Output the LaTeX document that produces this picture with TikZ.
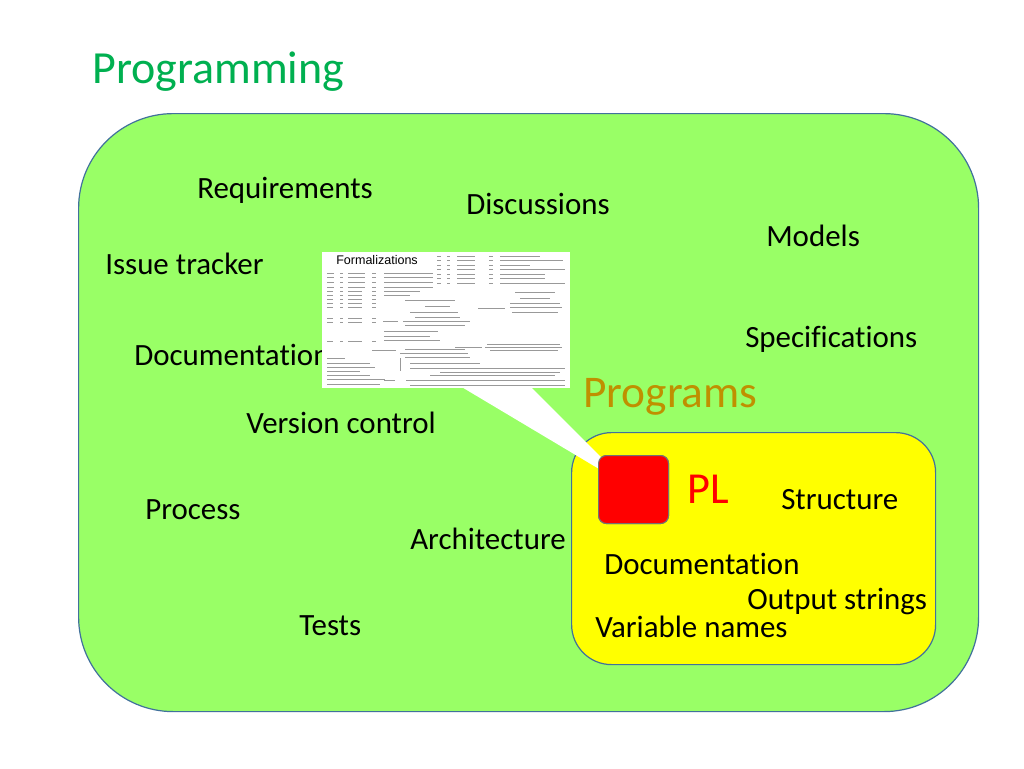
\documentclass[tikz,border=0pt]{standalone}
\usepackage{fontspec}
\setmainfont{Carlito}[Ligatures={NoCommon,NoContextual}]
\newfontfamily\arialf{Liberation Sans}
\usetikzlibrary{calc}
\definecolor{bggreen}{RGB}{153,255,102}
\definecolor{edgeblue}{RGB}{65,113,156}
\definecolor{titlegreen}{RGB}{0,176,80}
\definecolor{plyellow}{RGB}{255,255,0}
\definecolor{progcol}{RGB}{191,144,0}
\definecolor{plred}{RGB}{255,0,0}
\newcommand{\mockln}[3]{\draw[mock] (#1,#3) -- (#2,#3);}
\tikzset{
  lbl/.style={anchor=base west, inner sep=0pt, font=\fontsize{23.2pt}{26pt}\selectfont, text=black},
  big/.style={anchor=base west, inner sep=0pt, font=\fontsize{34pt}{38pt}\selectfont},
  mock/.style={draw=black!40, line width=0.55pt},
}
\begin{document}
\begin{tikzpicture}[x=0.75pt,y=-0.75pt]
\useasboundingbox (0,0) rectangle (1024,768);
\fill[white] (0,0) rectangle (1024,768);

% title
\node[big, text=titlegreen, font=\fontsize{34.5pt}{38pt}\selectfont] (title) at (92,83) {Programming};

% big green area
\node[draw=edgeblue, line width=0.9pt, fill=bggreen, rounded corners=71pt,
      anchor=north west, minimum width=675pt, minimum height=448.5pt, inner sep=0pt] (prog) at (78,113) {};

% labels in green area
\node[lbl] (req)  at (197,198) {Requirements};
\node[lbl] (disc) at (466,214) {Discussions};
\node[lbl] (mod)  at (766,246) {Models};
\node[lbl] (iss)  at (105,274) {Issue tracker};
\node[lbl] (spec) at (745,347) {Specifications};
\node[lbl] (doc1) at (134,365) {Documentation};
\node[lbl] (ver)  at (246,433) {Version control};
\node[lbl] (proc) at (145,519) {Process};
\node[lbl] (arch) at (410,549) {Architecture};
\node[lbl] (tests) at (299,635) {Tests};

\node[big, text=progcol] (programs) at (583,407) {Programs};

% yellow PL area
\node[draw=edgeblue, line width=0.9pt, fill=plyellow, rounded corners=30pt,
      anchor=north west, minimum width=273pt, minimum height=174pt, inner sep=0pt] (plbox) at (571,432) {};

% formalizations image
\node[fill=white, anchor=north west, minimum width=186pt, minimum height=102pt, inner sep=0pt] (formal) at (322,252) {};
\coordinate (tailL) at (460,386);
\coordinate (tailR) at (530,386);

% red PL square
\node[draw=black!55, line width=0.8pt, fill=plred, rounded corners=6pt,
      anchor=north west, minimum width=52.5pt, minimum height=51pt, inner sep=0pt] (plsq) at (598,455) {};
\fill[white] (tailL) -- (tailR) -- (plsq.center) -- cycle;
\node[draw=black!55, line width=0.8pt, fill=plred, rounded corners=6pt,
      anchor=north west, minimum width=52.5pt, minimum height=51pt, inner sep=0pt] at (598,455) {};

\node[anchor=base west, inner sep=0pt, font=\arialf\fontsize{9.4pt}{11pt}\selectfont] (ftitle) at (336,264) {Formalizations};

% mock formula content (illegible in the reference)
\foreach \yy/\ee in {256/540,260.5/563,265/530,269.5/565,274/545,278.5/545,283/565}{
  \mockln{437}{441}{\yy}\mockln{447}{450}{\yy}\mockln{457}{475}{\yy}\mockln{489}{493}{\yy}\mockln{500}{\ee}{\yy}}
\foreach \yy in {273,277,282,287}{
  \mockln{327}{334}{\yy}\mockln{340}{343}{\yy}\mockln{348}{365}{\yy}\mockln{372}{376}{\yy}\mockln{384}{433}{\yy}}
\foreach \yy in {291,295,299,303,307,318,322,341}{
  \mockln{327}{333}{\yy}\mockln{340}{343}{\yy}\mockln{348}{362}{\yy}\mockln{372}{376}{\yy}}
\mockln{384}{420}{291}\mockln{384}{410}{295}
\foreach \yy/\aa/\bb in {300/405/455,306/425/450,312/410/458,317/415/460,325/405/465}{\mockln{\aa}{\bb}{\yy}}
\draw[mock] (403,321) -- (470,321);
\mockln{383}{398}{321}
\foreach \yy/\aa/\bb in {292/515/555,298/520/550,303/510/560,312/512/558}{\mockln{\aa}{\bb}{\yy}}
\draw[mock] (510,307.5) -- (562,307.5);
\mockln{478}{505}{308}
\foreach \yy/\aa/\bb in {331/384/438,336/384/430,340/384/440}{\mockln{\aa}{\bb}{\yy}}
\foreach \yy/\aa/\bb in {328/490,333/485,338/480}{\mockln{\aa}{\bb}{\yy}}
\mockln{455}{482}{347}\mockln{487}{560}{344}\draw[mock] (485,347) -- (562,347);\mockln{490}{558}{350}
\mockln{372}{396}{350}\mockln{405}{465}{349}\draw[mock] (400,353) -- (468,353);\mockln{405}{470}{357}
\foreach \yy/\bb in {358/345,363/370,367/375,371/360,375/370,379/385,384/380}{\mockln{327}{\bb}{\yy}}
\draw[mock] (400,358) -- (400,371);
\foreach \yy/\aa/\bb in {363/410/480,368/410/565,372/440/560,375/430/555}{\mockln{\aa}{\bb}{\yy}}
\mockln{384}{395}{380}\draw[mock] (406,380) -- (565,380);\mockln{410}{565}{385}

% labels in yellow area
\node[big, text=plred, font=\fontsize{33.2pt}{38pt}\selectfont] (pl) at (687,503) {PL};
\node[lbl] (struct) at (781,509) {Structure};
\node[lbl] (doc2)   at (604,574) {Documentation};
\node[lbl] (outs)   at (747,609) {Output strings};
\node[lbl] (vars)   at (595,637) {Variable names};
\end{tikzpicture}
\end{document}
